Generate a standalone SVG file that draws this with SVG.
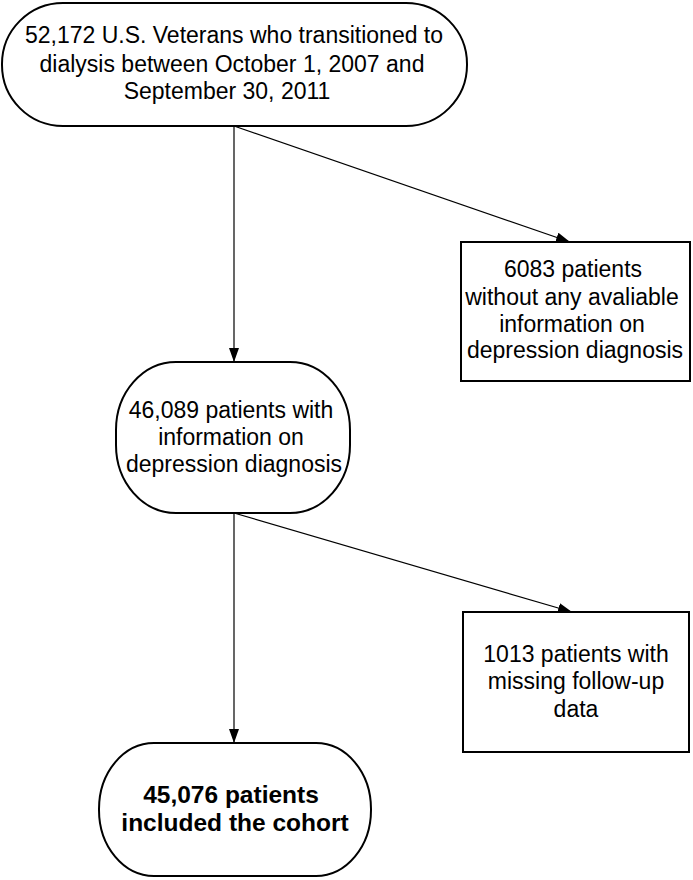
<svg xmlns="http://www.w3.org/2000/svg" width="693" height="880" viewBox="0 0 693 880">
<defs>
<marker id="arr" markerUnits="userSpaceOnUse" markerWidth="14" markerHeight="10" refX="14" refY="5" orient="auto">
<path d="M0,0 L14,5 L0,10 Z" fill="#000"/>
</marker>
<style>
.node{fill:#fff;stroke:#000;stroke-width:2}
.t{font-family:"Liberation Sans",Arial,sans-serif;font-size:23px;fill:#000;text-anchor:middle}
.b{font-weight:bold;font-size:24.5px}
.c{fill:none;stroke:#000;stroke-width:1.2;marker-end:url(#arr)}
</style>
</defs>
<rect width="693" height="880" fill="#fff"/>
<g id="connectors">
<line class="c" x1="234" y1="126" x2="234" y2="362"/>
<line class="c" x1="234" y1="126" x2="570" y2="242"/>
<line class="c" x1="234" y1="513" x2="234" y2="743"/>
<line class="c" x1="234" y1="513" x2="572" y2="612"/>
</g>
<g id="n1">
<rect class="node" x="2" y="3" width="465" height="123" rx="61" ry="61"/>
<text class="t" x="234" y="43">52,172 U.S. Veterans who transitioned to</text>
<text class="t" x="232" y="72">dialysis between October 1, 2007 and</text>
<text class="t" x="227" y="99">September 30, 2011</text>
</g>
<g id="n2">
<rect class="node" x="461" y="242" width="229" height="139"/>
<text class="t" x="573" y="277">6083 patients</text>
<text class="t" x="572" y="305">without any avaliable</text>
<text class="t" x="572" y="332">information on</text>
<text class="t" x="575" y="358">depression diagnosis</text>
</g>
<g id="n3">
<rect class="node" x="116" y="362" width="234" height="151" rx="60" ry="68"/>
<text class="t" x="231" y="418">46,089 patients with</text>
<text class="t" x="231" y="445">information on</text>
<text class="t" x="234" y="472">depression diagnosis</text>
</g>
<g id="n4">
<rect class="node" x="463" y="612" width="226" height="140"/>
<text class="t" x="576" y="662">1013 patients with</text>
<text class="t" x="576" y="689">missing follow-up</text>
<text class="t" x="576" y="717">data</text>
</g>
<g id="n5">
<rect class="node" x="99" y="743" width="272" height="133" rx="55" ry="66"/>
<text class="t b" x="231" y="803">45,076 patients</text>
<text class="t b" x="235" y="831">included the cohort</text>
</g>
</svg>
